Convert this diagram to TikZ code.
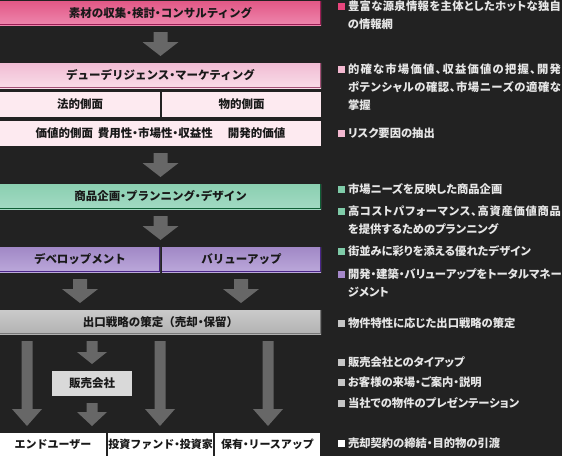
\documentclass[tikz,border=0pt]{standalone}
\usepackage{fontspec}
\newfontfamily\jp[RawFeature=+palt]{Noto Sans CJK JP}
\newfontfamily\jpbox{Noto Sans CJK JP}
\setlength\parindent{0pt}
\usetikzlibrary{calc}
\definecolor{bgc}{HTML}{222222}
\definecolor{arrc}{HTML}{676767}
\definecolor{txtc}{HTML}{E6E6E6}
\definecolor{p1t}{HTML}{E25886}
\definecolor{p1b}{HTML}{EE86AD}
\definecolor{p1d}{HTML}{9B1D55}
\definecolor{p2t}{HTML}{F1BCD3}
\definecolor{p2b}{HTML}{F9DDE9}
\definecolor{p2d}{HTML}{A35177}
\definecolor{p3}{HTML}{FDEAF0}
\definecolor{gt}{HTML}{8BCFB1}
\definecolor{gb}{HTML}{A2DAC3}
\definecolor{gd}{HTML}{0E5E35}
\definecolor{vt}{HTML}{A188C6}
\definecolor{vb}{HTML}{BBA8DA}
\definecolor{vd}{HTML}{4A2589}
\definecolor{grt}{HTML}{CACACA}
\definecolor{grb}{HTML}{B2B2B2}
\definecolor{grd}{HTML}{787878}
\definecolor{salesc}{HTML}{D9D9D9}
\definecolor{bp1}{HTML}{E8457C}
\definecolor{bp2}{HTML}{F3B8D0}
\definecolor{bgr}{HTML}{7FCBA8}
\definecolor{bvi}{HTML}{A588CA}
\definecolor{bgy}{HTML}{C6C6C6}
% narrow middle dot for box labels
\newcommand\nk{\makebox[0.5em][c]{・}}
% spread the characters of a line over 213pt
\def\spread#1{\hbox to 213pt{\spreadfirst#1\relax}}
\def\spreadfirst#1{#1\spreadrest}
\def\spreadrest#1{\ifx#1\relax\else\hskip0pt plus 1fil\relax#1\expandafter\spreadrest\fi}
\newcommand\shadeedge[2]{\draw[#2, line width=1.5pt] ([xshift=-0.75pt]#1.north east) -- ([xshift=-0.75pt,yshift=0.75pt]#1.south east) -- ([yshift=0.75pt]#1.south west);}
% x, from, to, half shaft, half head, head length
\newcommand\barrow[6]{\fill[arrc] let \p1=#2, \p2=#3 in
 ({#1pt-#4pt},{\y1-7pt}) -- ({#1pt+#4pt},{\y1-7pt}) -- ({#1pt+#4pt},{\y2+7pt+#6pt}) -- ({#1pt+#5pt},{\y2+7pt+#6pt}) -- ({#1pt},{\y2+7pt}) -- ({#1pt-#5pt},{\y2+7pt+#6pt}) -- ({#1pt-#4pt},{\y2+7pt+#6pt}) -- cycle;}
\begin{document}
\begin{tikzpicture}[x=1pt,y=-1pt,
 bx/.style={inner sep=0pt, outer sep=0pt, font=\jpbox\bfseries\fontsize{11.5}{13}\selectfont, text=black!90},
 bxs/.style={bx, font=\jpbox\bfseries\fontsize{11}{13}\selectfont},
 rt/.style={anchor=base west, inner sep=0pt, outer sep=0pt, font=\jp\bfseries\fontsize{11.3}{18}\selectfont, text=txtc},
 sq/.style={inner sep=0pt, outer sep=0pt, minimum size=7pt},
]
\fill[bgc] (0,0) rectangle (562,456);
\useasboundingbox (0,0) rectangle (562,456);

% left column boxes
\node[bx, minimum width=321pt, minimum height=24pt, top color=p1t, bottom color=p1b] (b1) at (160.5,13) {素材の収集\nk 検討\nk コンサルティング};
\shadeedge{b1}{p1d}
\node[bx, minimum width=321pt, minimum height=25pt, top color=p2t, bottom color=p2b] (b2) at (160.5,75.5) {デューデリジェンス\nk マーケティング};
\shadeedge{b2}{p2d}
\node[bx, minimum width=160pt, minimum height=25pt, fill=p3] (b3a) at (80,104.5) {法的側面};
\node[bx, minimum width=159pt, minimum height=25pt, fill=p3] (b3b) at (241.5,104.5) {物的側面};
\node[bx, minimum width=321pt, minimum height=25pt, fill=p3] (b4) at (160.5,133.5) {価値的側面\hspace{0.4em}費用性\nk 市場性\nk 収益性\hspace{1.3em}開発的価値};
\node[bx, minimum width=321pt, minimum height=25pt, top color=gt, bottom color=gb] (b5) at (160.5,196.5) {商品企画\nk プランニング\nk デザイン};
\shadeedge{b5}{gd}
\node[bx, minimum width=160pt, minimum height=25pt, top color=vt, bottom color=vb] (b6a) at (80,259.5) {デベロップメント};
\shadeedge{b6a}{vd}
\node[bx, minimum width=159pt, minimum height=25pt, top color=vt, bottom color=vb] (b6b) at (241.5,259.5) {バリューアップ};
\shadeedge{b6b}{vd}
\node[bx, minimum width=321pt, minimum height=24pt, top color=grt, bottom color=grb] (b7) at (160.5,322) {出口戦略の策定（売却\nk 保留）};
\shadeedge{b7}{grd}
\node[bx, minimum width=80pt, minimum height=25pt, fill=salesc] (sales) at (92,383.5) {販売会社};
\node[bxs, minimum width=106pt, minimum height=23pt, fill=white] (e1) at (53,444.5) {エンドユーザー};
\node[bxs, minimum width=105pt, minimum height=23pt, fill=white] (e2) at (160.5,444.5) {投資ファンド\nk 投資家};
\node[bxs, minimum width=105pt, minimum height=23pt, fill=white] (e3) at (267.5,444.5) {保有\nk リースアップ};

% block arrows
\barrow{160.5}{(b1.south)}{(b2.north)}{7}{18}{14}
\barrow{160.5}{(b4.south)}{(b5.north)}{7}{18}{14}
\barrow{160.5}{(b5.south)}{(b6a.north)}{7}{18}{14}
\barrow{80}{(b6a.south)}{(b7.north)}{7}{18}{14}
\barrow{241}{(b6b.south)}{(b7.north)}{7}{18}{14}
\barrow{27}{(b7.south)}{(e1.north)}{5.5}{15}{17}
\barrow{92}{(b7.south)}{(sales.north)}{5.5}{15}{12}
\barrow{92}{(sales.south)}{(e1.north)}{5.5}{15}{14}
\barrow{160}{(b7.south)}{(e2.north)}{5.5}{15}{17}
\barrow{268}{(b7.south)}{(e3.north)}{5.5}{15}{17}

% right column
\node[sq, fill=bp1] (q1) at (341.5,6) {};
\node[rt] (t1a) at (348,10.3) {\spread{豊富な源泉情報を主体としたホットな独自}};
\node[rt] (t1b) at (348,28.3) {の情報網};
\node[sq, fill=bp2] (q2) at (341.5,69) {};
\node[rt] (t2a) at (348,73.3) {\spread{的確な市場価値、収益価値の把握、開発}};
\node[rt] (t2b) at (348,91.3) {\spread{ポテンシャルの確認、市場ニーズの適確な}};
\node[rt] (t2c) at (348,109.3) {掌握};
\node[sq, fill=bp2] (q3) at (341.5,133) {};
\node[rt] (t3) at (348,137.3) {リスク要因の抽出};
\node[sq, fill=bgr] (q4) at (341.5,189) {};
\node[rt] (t4) at (348,193.3) {市場ニーズを反映した商品企画};
\node[sq, fill=bgr] (q5) at (341.5,211) {};
\node[rt] (t5a) at (348,215.3) {\spread{高コストパフォーマンス、高資産価値商品}};
\node[rt] (t5b) at (348,233.3) {を提供するためのプランニング};
\node[sq, fill=bgr] (q6) at (341.5,251) {};
\node[rt] (t6) at (348,255.3) {街並みに彩りを添える優れたデザイン};
\node[sq, fill=bvi] (q7) at (341.5,274) {};
\node[rt] (t7a) at (348,278.3) {\spread{開発・建築・バリューアップをトータルマネー}};
\node[rt] (t7b) at (348,296.3) {ジメント};
\node[sq, fill=bgy] (q8) at (341.5,323) {};
\node[rt] (t8) at (348,327.3) {物件特性に応じた出口戦略の策定};
\node[sq, fill=bgy] (q9) at (341.5,362) {};
\node[rt] (t9) at (348,366.3) {販売会社とのタイアップ};
\node[sq, fill=bgy] (q10) at (341.5,382.5) {};
\node[rt] (t10) at (348,386.8) {お客様の来場・ご案内・説明};
\node[sq, fill=bgy] (q11) at (341.5,403) {};
\node[rt] (t11) at (348,407.3) {当社での物件のプレゼンテーション};
\node[sq, fill=white] (q12) at (341.5,443) {};
\node[rt] (t12) at (348,447.3) {売却契約の締結・目的物の引渡};
\end{tikzpicture}
\end{document}
